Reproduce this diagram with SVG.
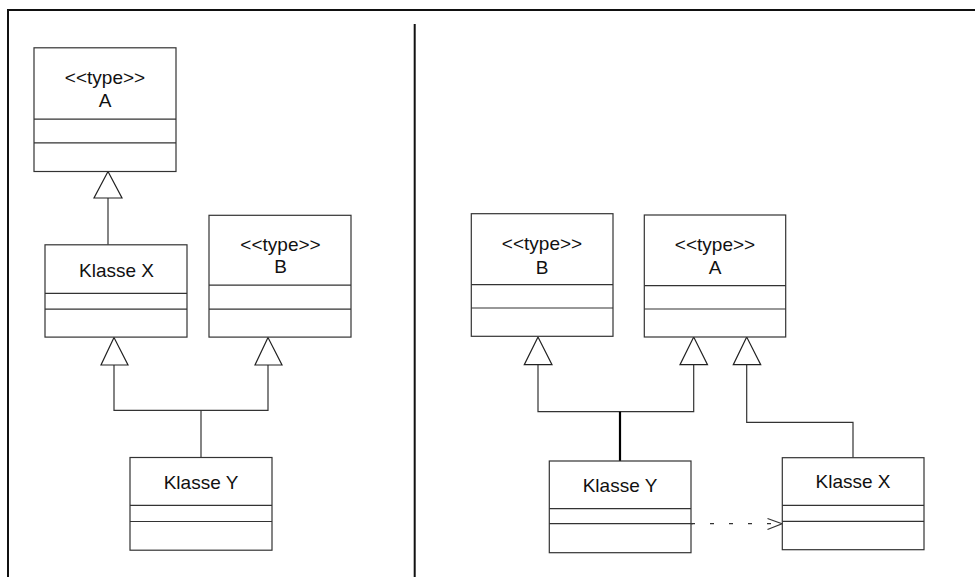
<svg xmlns="http://www.w3.org/2000/svg" width="975" height="577" viewBox="0 0 975 577">
  <defs>
    <style>
      .box { fill: #ffffff; stroke: #333333; stroke-width: 1.2; }
      .sep { stroke: #333333; stroke-width: 1.2; fill: none; }
      .edge { stroke: #333333; stroke-width: 1.2; fill: none; }
      .thick { stroke: #000000; stroke-width: 2.2; fill: none; }
      .tri { fill: #ffffff; stroke: #222222; stroke-width: 1.2; }
      .dash { stroke: #333333; stroke-width: 1.2; fill: none; stroke-dasharray: 4 15; }
      .frame { stroke: #111111; stroke-width: 2; fill: none; }
      text { font-family: "Liberation Sans", Arial, sans-serif; font-size: 19px; fill: #111111; text-anchor: middle; }
    </style>
  </defs>
  <rect width="975" height="577" fill="#ffffff"/>

  <!-- page frame and column divider -->
  <g id="frame">
    <path class="frame" d="M8 577 V10 H975"/>
    <path class="frame" d="M414.7 24 V577"/>
  </g>

  <!-- connectors -->
  <g id="connectors">
    <!-- left: Klasse X -> A -->
    <path class="edge" d="M108 198 V244.8"/>
    <polygon class="tri" points="108,171.5 94,198 122,198"/>
    <!-- left: Klasse Y -> Klasse X, B -->
    <path class="edge" d="M114 365 V410.4 H268 V365"/>
    <path class="edge" d="M201 410.4 V457.5"/>
    <polygon class="tri" points="114,337.5 101,365 128,365"/>
    <polygon class="tri" points="268,337.5 255,365 282,365"/>

    <!-- right: Klasse Y -> B, A -->
    <path class="edge" d="M538 364.7 V411.7 H693.7 V364.7"/>
    <path class="thick" d="M620 411.7 V461"/>
    <polygon class="tri" points="538,337 524.3,364.7 552,364.7"/>
    <polygon class="tri" points="693.7,337 680,364.7 707.5,364.7"/>
    <!-- right: Klasse X -> A -->
    <path class="edge" d="M746.7 364.7 V422.3 H853 V457.7"/>
    <polygon class="tri" points="746.7,337 733.3,364.7 760.7,364.7"/>
    <!-- right: Klasse Y dependency on Klasse X -->
    <path class="dash" d="M691 523.7 H781"/>
    <path class="edge" d="M767.5 518.5 L782 523.7 L767.5 529.5"/>
  </g>

  <!-- left column -->
  <g id="left-type-a">
    <rect class="box" x="34" y="47.8" width="142" height="123.7"/>
    <path class="sep" d="M34 119.2 H176 M34 142.8 H176"/>
    <text x="105" y="84.3">&lt;&lt;type&gt;&gt;</text>
    <text x="105" y="107.3">A</text>
  </g>
  <g id="left-klasse-x">
    <rect class="box" x="45" y="244.8" width="142" height="92.3"/>
    <path class="sep" d="M45 293.3 H187 M45 309.2 H187"/>
    <text x="116.5" y="276.6">Klasse X</text>
  </g>
  <g id="left-type-b">
    <rect class="box" x="209" y="215.3" width="142" height="121.8"/>
    <path class="sep" d="M209 285.2 H351 M209 309.2 H351"/>
    <text x="280.5" y="250.7">&lt;&lt;type&gt;&gt;</text>
    <text x="280.5" y="272.9">B</text>
  </g>
  <g id="left-klasse-y">
    <rect class="box" x="130" y="457.5" width="142" height="92.7"/>
    <path class="sep" d="M130 505.3 H272 M130 521.5 H272"/>
    <text x="201" y="488.9">Klasse Y</text>
  </g>

  <!-- right column -->
  <g id="right-type-b">
    <rect class="box" x="471.3" y="213.7" width="141.7" height="122.6"/>
    <path class="sep" d="M471.3 284.7 H613 M471.3 308 H613"/>
    <text x="542" y="250">&lt;&lt;type&gt;&gt;</text>
    <text x="542" y="273.5">B</text>
  </g>
  <g id="right-type-a">
    <rect class="box" x="644.3" y="215" width="141.4" height="122"/>
    <path class="sep" d="M644.3 285.7 H785.7 M644.3 309 H785.7"/>
    <text x="715" y="250.7">&lt;&lt;type&gt;&gt;</text>
    <text x="715" y="273.8">A</text>
  </g>
  <g id="right-klasse-y">
    <rect class="box" x="549.3" y="461" width="141.7" height="91.7"/>
    <path class="sep" d="M549.3 508.7 H691 M549.3 523.7 H693"/>
    <text x="620" y="491.8">Klasse Y</text>
  </g>
  <g id="right-klasse-x">
    <rect class="box" x="782.3" y="457.7" width="141.7" height="92"/>
    <path class="sep" d="M782.3 505.3 H924 M782.3 521.3 H924"/>
    <text x="853" y="487.8">Klasse X</text>
  </g>
</svg>
